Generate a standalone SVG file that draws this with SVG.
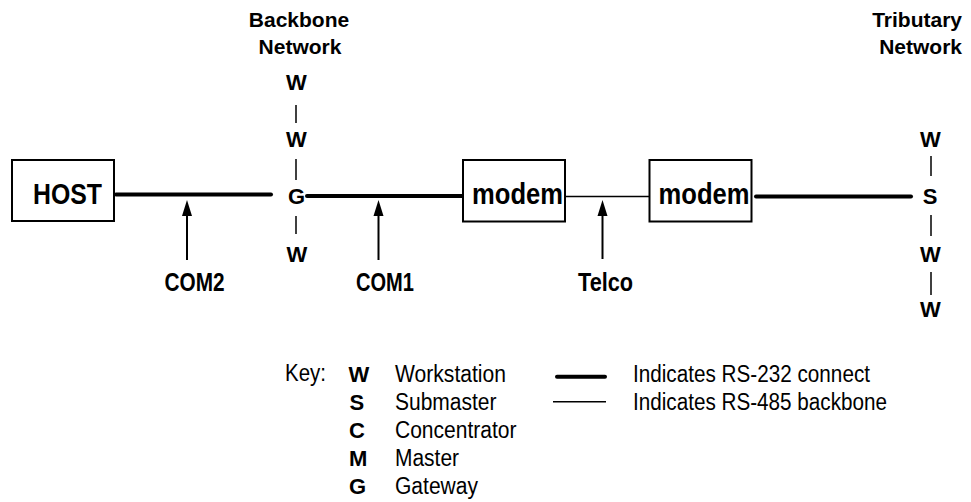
<svg xmlns="http://www.w3.org/2000/svg" width="971" height="502" viewBox="0 0 971 502">
<style>
text{font-family:"Liberation Sans",Arial,sans-serif;fill:#000}
.big{font-weight:bold;font-size:29px}
.lbl{font-weight:bold;font-size:22px}
.net{font-weight:bold;font-size:21px}
.arrlbl{font-weight:bold;font-size:25px}
.key{font-size:23px}
.box{fill:#fff;stroke:#000;stroke-width:2}
.thick{stroke:#000;stroke-width:4;stroke-linecap:round;fill:none}
.thin{stroke:#000;stroke-width:1.6;fill:none}
.tick{stroke:#000;stroke-width:1.5}
.shaft{stroke:#000;stroke-width:2}
</style>
<g id="connectors">
<line class="thick" x1="116" y1="194.5" x2="271" y2="194.5"/>
<line class="thick" x1="307" y1="196" x2="462" y2="196"/>
<line class="thin" x1="565" y1="196.5" x2="649" y2="196.5"/>
<line class="thick" x1="756" y1="196.5" x2="911" y2="196.5"/>
<line class="tick" x1="296" y1="105" x2="296" y2="123"/>
<line class="tick" x1="296" y1="159" x2="296" y2="180"/>
<line class="tick" x1="296" y1="216" x2="296" y2="234"/>
<line class="tick" x1="931" y1="156" x2="931" y2="176"/>
<line class="tick" x1="931" y1="215" x2="931" y2="236"/>
<line class="tick" x1="931" y1="272" x2="931" y2="295"/>
</g>
<g id="arrow-com2">
<line class="shaft" x1="187" y1="260" x2="187" y2="213"/>
<polygon points="187,200 192,216 182,216" fill="#000"/>
<text class="arrlbl" x="194.5" y="290.5" text-anchor="middle" textLength="60" lengthAdjust="spacingAndGlyphs">COM2</text>
</g>
<g id="arrow-com1">
<line class="shaft" x1="378.5" y1="260" x2="378.5" y2="213"/>
<polygon points="378.5,200 383.5,216 373.5,216" fill="#000"/>
<text class="arrlbl" x="385" y="290.5" text-anchor="middle" textLength="58" lengthAdjust="spacingAndGlyphs">COM1</text>
</g>
<g id="arrow-telco">
<line class="shaft" x1="602.5" y1="259" x2="602.5" y2="213"/>
<polygon points="602.5,200 607.5,216 597.5,216" fill="#000"/>
<text class="arrlbl" x="605.5" y="290.5" text-anchor="middle" textLength="55" lengthAdjust="spacingAndGlyphs">Telco</text>
</g>
<g id="host">
<rect class="box" x="12" y="160" width="102" height="61"/>
<text class="big" x="67.5" y="204" text-anchor="middle" textLength="69" lengthAdjust="spacingAndGlyphs">HOST</text>
</g>
<g id="modem1">
<rect class="box" x="463" y="160" width="102" height="61.5"/>
<text class="big" x="517.5" y="203.5" text-anchor="middle" textLength="91" lengthAdjust="spacingAndGlyphs">modem</text>
</g>
<g id="modem2">
<rect class="box" x="649.5" y="160" width="102" height="61.5"/>
<text class="big" x="704" y="203.5" text-anchor="middle" textLength="91" lengthAdjust="spacingAndGlyphs">modem</text>
</g>
<g id="backbone-network">
<text class="net" x="299" y="27" text-anchor="middle">Backbone</text>
<text class="net" x="300" y="54" text-anchor="middle">Network</text>
<text class="lbl" x="296.5" y="90" text-anchor="middle">W</text>
<text class="lbl" x="296.5" y="147" text-anchor="middle">W</text>
<text class="lbl" x="296.5" y="204" text-anchor="middle">G</text>
<text class="lbl" x="297" y="262" text-anchor="middle">W</text>
</g>
<g id="tributary-network">
<text class="net" x="962" y="27" text-anchor="end">Tributary</text>
<text class="net" x="962" y="54" text-anchor="end">Network</text>
<text class="lbl" x="930.5" y="147" text-anchor="middle">W</text>
<text class="lbl" x="930" y="203.5" text-anchor="middle">S</text>
<text class="lbl" x="930.5" y="262" text-anchor="middle">W</text>
<text class="lbl" x="930.5" y="317" text-anchor="middle">W</text>
</g>
<g id="key">
<text class="key" x="285" y="381" textLength="41" lengthAdjust="spacingAndGlyphs">Key:</text>
<text class="lbl" x="348.5" y="381.5">W</text>
<text class="lbl" x="349.5" y="409.7">S</text>
<text class="lbl" x="349" y="437.9">C</text>
<text class="lbl" x="349" y="466.1">M</text>
<text class="lbl" x="349" y="494.3">G</text>
<text class="key" x="395" y="381.5" textLength="111" lengthAdjust="spacingAndGlyphs">Workstation</text>
<text class="key" x="395" y="409.7" textLength="101.5" lengthAdjust="spacingAndGlyphs">Submaster</text>
<text class="key" x="395" y="437.9" textLength="121.5" lengthAdjust="spacingAndGlyphs">Concentrator</text>
<text class="key" x="395" y="466.1" textLength="64" lengthAdjust="spacingAndGlyphs">Master</text>
<text class="key" x="395" y="494.3" textLength="83" lengthAdjust="spacingAndGlyphs">Gateway</text>
<line class="thick" x1="557" y1="376.7" x2="605" y2="376.7"/>
<line class="thin" x1="553" y1="401.7" x2="606" y2="401.7" stroke-width="1.5"/>
<text class="key" x="633" y="381.5" textLength="237" lengthAdjust="spacingAndGlyphs">Indicates RS-232 connect</text>
<text class="key" x="633" y="409.5" textLength="254" lengthAdjust="spacingAndGlyphs">Indicates RS-485 backbone</text>
</g>
</svg>
